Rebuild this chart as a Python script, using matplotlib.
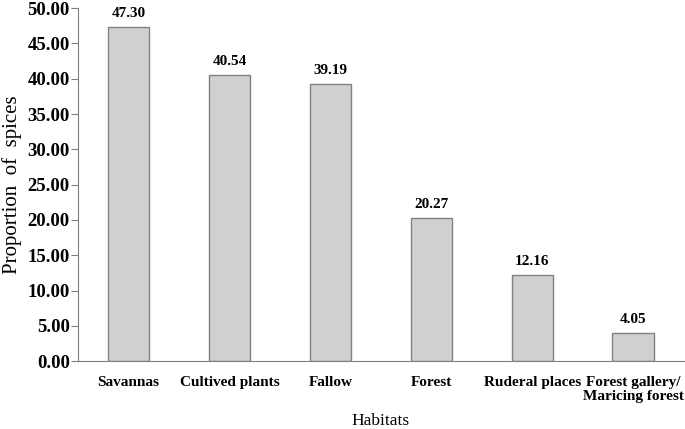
import matplotlib
matplotlib.use('Agg')
import matplotlib.pyplot as plt

habitats = ['Savannas', 'Cultived plants', 'Fallow', 'Forest', 'Ruderal places',
            'Forest gallery/\nMaricing forest']
proportions = [47.30, 40.54, 39.19, 20.27, 12.16, 4.05]
y_ticks = [0, 5, 10, 15, 20, 25, 30, 35, 40, 45, 50]

plt.rcParams['font.family'] = ['Liberation Serif', 'DejaVu Serif']

fig = plt.figure(figsize=(6.85, 4.29), dpi=100)
ax = fig.add_axes([0.114, 0.158, 0.884, 0.823])

x = range(len(habitats))
bars = ax.bar(x, proportions, width=0.41, color='#d0d0d0', edgecolor='#808080', linewidth=1)

for b, v in zip(bars, proportions):
    ax.text(b.get_x() + b.get_width() / 2, v + 1.0, f'{v:.2f}', ha='center', va='bottom',
            fontsize=11, fontweight='bold')

ax.set_xlim(-0.5, len(habitats) - 0.5)
ax.set_ylim(0, 50)
ax.set_yticks(y_ticks)
ax.set_yticklabels([f'{t:.2f}' for t in y_ticks], fontsize=13.5, fontweight='bold')
ax.set_xticks(list(x))
ax.set_xticklabels(habitats, fontsize=11, fontweight='bold', linespacing=1.05)
ax.tick_params(axis='x', length=0, pad=11)
ax.tick_params(axis='y', length=5, color='#808080', pad=1)

for s in ['top', 'right']:
    ax.spines[s].set_visible(False)
for s in ['left', 'bottom']:
    ax.spines[s].set_color('#808080')

ax.set_xlabel('Habitats', fontsize=12.5, labelpad=7)
ax.set_ylabel('Proportion  of  spices', fontsize=15, labelpad=4)

fig.savefig('out.png', dpi=100)
